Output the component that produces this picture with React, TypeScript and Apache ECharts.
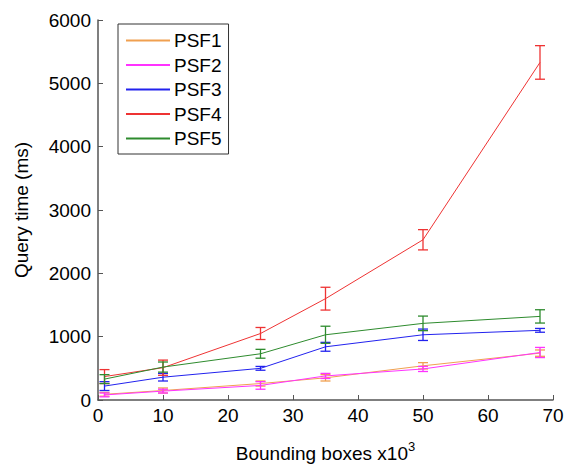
import React, { useEffect, useRef } from "react";
import * as echarts from "echarts";

const xValues = [1, 10, 25, 35, 50, 68];
const seriesNames = ["PSF1", "PSF2", "PSF3", "PSF4", "PSF5"];
const colors = ["#F0A050", "#FF33FF", "#2222EE", "#EE3333", "#2E8B2E"];
const psf1 = [90, 150, 260, 350, 540, 740];
const psf2 = [80, 140, 230, 380, 490, 750];
const psf3 = [220, 360, 500, 840, 1030, 1100];
const psf4 = [370, 510, 1050, 1600, 2530, 5330];
const psf5 = [330, 520, 730, 1030, 1210, 1320];
const psf1Err = [30, 40, 40, 50, 50, 50];
const psf2Err = [30, 30, 60, 40, 40, 80];
const psf3Err = [70, 60, 30, 70, 90, 30];
const psf4Err = [110, 120, 95, 180, 160, 265];
const psf5Err = [70, 80, 70, 135, 115, 105];
const yTicks = [0, 1000, 2000, 3000, 4000, 5000, 6000];

const values = [psf1, psf2, psf3, psf4, psf5];
const errs = [psf1Err, psf2Err, psf3Err, psf4Err, psf5Err];

export default function App() {
  const ref = useRef<HTMLDivElement>(null);
  useEffect(() => {
    document.body.style.margin = "0";
    const chart = echarts.init(ref.current!, null, { renderer: "svg" });
    const font = "Liberation Sans";
    const series: any[] = [];
    seriesNames.forEach((name, i) => {
      series.push({
        name,
        type: "line",
        data: xValues.map((x, j) => [x, values[i][j]]),
        showSymbol: false,
        symbol: "none",
        lineStyle: { color: colors[i], width: 1 },
        itemStyle: { color: colors[i] },
        z: 2 + i,
      });
      series.push({
        name: name + " err",
        type: "custom",
        data: xValues.map((x, j) => [x, values[i][j] - errs[i][j], values[i][j] + errs[i][j]]),
        encode: { x: 0, y: [1, 2] },
        z: 2 + i,
        renderItem: (params: any, api: any) => {
          const lo = api.coord([api.value(0), api.value(1)]);
          const hi = api.coord([api.value(0), api.value(2)]);
          const w = 5;
          const style = { stroke: colors[i], lineWidth: 1.3 };
          return {
            type: "group",
            children: [
              { type: "line", shape: { x1: lo[0], y1: lo[1], x2: hi[0], y2: hi[1] }, style },
              { type: "line", shape: { x1: lo[0] - w, y1: lo[1], x2: lo[0] + w, y2: lo[1] }, style },
              { type: "line", shape: { x1: hi[0] - w, y1: hi[1], x2: hi[0] + w, y2: hi[1] }, style },
            ],
          };
        },
      });
    });
    chart.setOption({
      animation: false,
      backgroundColor: "#ffffff",
      grid: { left: 98, right: 15, top: 20, bottom: 61 },
      legend: {
        data: seriesNames.map((n, i) => ({ name: n, itemStyle: { color: colors[i] } })),
        orient: "vertical",
        left: 118,
        top: 24,
        padding: [7, 7, 6, 8],
        itemGap: 5.5,
        itemWidth: 44,
        itemHeight: 2,
        icon: "rect",
        borderColor: "#333",
        borderWidth: 1,
        backgroundColor: "#fff",
        textStyle: { fontFamily: font, fontSize: 19, color: "#000", padding: [0, 0, 0, -1] },
      },
      xAxis: {
        type: "value",
        min: 0,
        max: 70,
        interval: 10,
        name: "{a|Bounding boxes x10}{b|3}",
        nameLocation: "middle",
        nameGap: 40,
        nameTextStyle: {
          rich: {
            a: { fontFamily: font, fontSize: 19, color: "#000" },
            b: { fontFamily: font, fontSize: 13, color: "#000", verticalAlign: "top", padding: [0, 0, 14, 0] },
          },
        },
        axisLine: { lineStyle: { color: "#555", width: 1.5 } },
        axisTick: { inside: true, length: 5, lineStyle: { color: "#555" } },
        axisLabel: { fontFamily: font, fontSize: 19, color: "#000", margin: 6 },
        splitLine: { show: false },
      },
      yAxis: {
        type: "value",
        min: 0,
        max: 6000,
        interval: 1000,
        name: "Query time (ms)",
        nameLocation: "middle",
        nameGap: 67,
        nameTextStyle: { fontFamily: font, fontSize: 19, color: "#000" },
        axisLine: { show: true, lineStyle: { color: "#555", width: 1.5 } },
        axisTick: { show: true, inside: true, length: 5, lineStyle: { color: "#555" } },
        axisLabel: {
          fontFamily: font,
          fontSize: 19,
          color: "#000",
          margin: 7,
          formatter: (v: number) => (yTicks.includes(v) ? String(v) : ""),
        },
        splitLine: { show: false },
      },
      series,
    });
    return () => chart.dispose();
  }, []);
  return <div ref={ref} style={{ width: 568, height: 468 }} />;
}
